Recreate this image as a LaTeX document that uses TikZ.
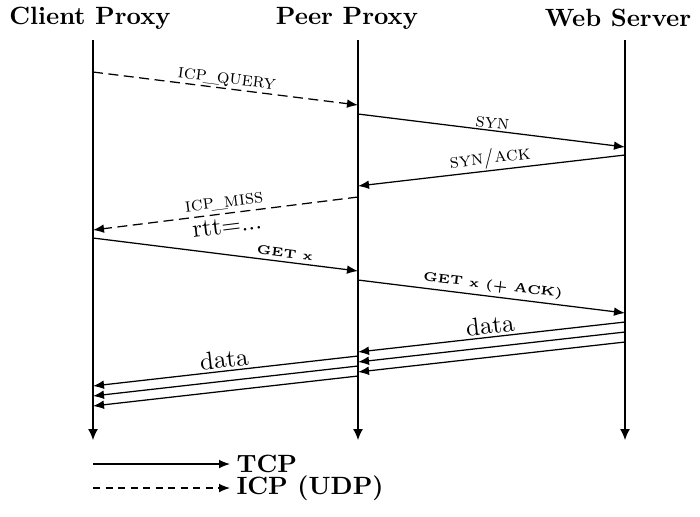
\documentclass[tikz,border=0pt]{standalone}
\usetikzlibrary{arrows.meta}
\begin{document}
\begin{tikzpicture}[x=0.4pt,y=-0.4pt,
  tip/.tip={Latex[length=4.4pt,width=3.5pt]},
  msg/.style={line width=0.5pt,-tip},
  udp/.style={msg,dash pattern=on 4pt off 2.2pt},
  legudp/.style={msg,dash pattern=on 2.8pt off 2.2pt},
  life/.style={line width=0.5pt,-{Latex[length=4.4pt,width=4pt]}},
  head/.style={font=\bfseries,inner sep=0pt},
  lab/.style={font=\footnotesize\scshape,sloped,above,inner sep=0.6pt,midway},
  blab/.style={font=\tiny\bfseries,sloped,above,inner sep=1.5pt},
  big/.style={font=\normalsize,sloped,inner sep=1pt,midway}]
\useasboundingbox (0,0) rectangle (700,516);
% headings
\node[head] (hc) at (90,18) {Client Proxy};
\node[head] (hp) at (347,18) {Peer Proxy};
\node[head] (hw) at (618,18) {Web Server};
% lifelines
\coordinate (c0) at (93,40);  \coordinate (c1) at (93,440);
\coordinate (p0) at (358,40); \coordinate (p1) at (358,440);
\coordinate (w0) at (625,40); \coordinate (w1) at (625,440);
\draw[life] (c0) -- (c1);
\draw[life] (p0) -- (p1);
\draw[life] (w0) -- (w1);
% message end points
\coordinate (q1) at (93,72);   \coordinate (q2) at (358,105);
\coordinate (s1) at (358,114); \coordinate (s2) at (625,147);
\coordinate (a1) at (625,155); \coordinate (a2) at (358,186);
\coordinate (m1) at (358,197); \coordinate (m2) at (93,230);
\coordinate (g1) at (93,238);  \coordinate (g2) at (358,271);
\coordinate (k1) at (358,280); \coordinate (k2) at (625,313);
\coordinate (d1) at (625,322); \coordinate (e1) at (358,352);
\coordinate (d2) at (625,332); \coordinate (e2) at (358,362);
\coordinate (d3) at (625,342); \coordinate (e3) at (358,372);
\coordinate (f1) at (358,356); \coordinate (h1) at (93,386);
\coordinate (f2) at (358,366); \coordinate (h2) at (93,396);
\coordinate (f3) at (358,376); \coordinate (h3) at (93,406);
% messages
\draw[udp] (q1) -- node[lab] {icp\kern-1.2pt\_\kern-1.2pt query} (q2);
\draw[msg] (s1) -- node[lab] {syn} (s2);
\draw[msg] (a1) -- node[lab] {syn/ack} (a2);
\draw[udp] (m1) -- node[lab,inner sep=1.2pt] {icp\kern-1.2pt\_\kern-1.2pt miss} node[big,below,inner sep=1.6pt] {rtt=...} (m2);
\draw[msg] (g1) -- node[blab,pos=0.72] {GET x} (g2);
\draw[msg] (k1) -- node[blab,midway] {GET x (+ ACK)} (k2);
\draw[msg] (d1) -- node[big,above] {data} (e1);
\draw[msg] (d2) -- (e2);
\draw[msg] (d3) -- (e3);
\draw[msg] (f1) -- node[big,above] {data} (h1);
\draw[msg] (f2) -- (h2);
\draw[msg] (f3) -- (h3);
% legend
\coordinate (t1) at (93,464); \node[head,anchor=west] (tt) at (236,464) {TCP};
\coordinate (u1) at (93,488); \node[head,anchor=west] (ut) at (236,488) {ICP (UDP)};
\draw[msg] (t1) -- ([xshift=-2.4pt]tt.west);
\draw[legudp] (u1) -- ([xshift=-2.4pt]ut.west);
\end{tikzpicture}
\end{document}
